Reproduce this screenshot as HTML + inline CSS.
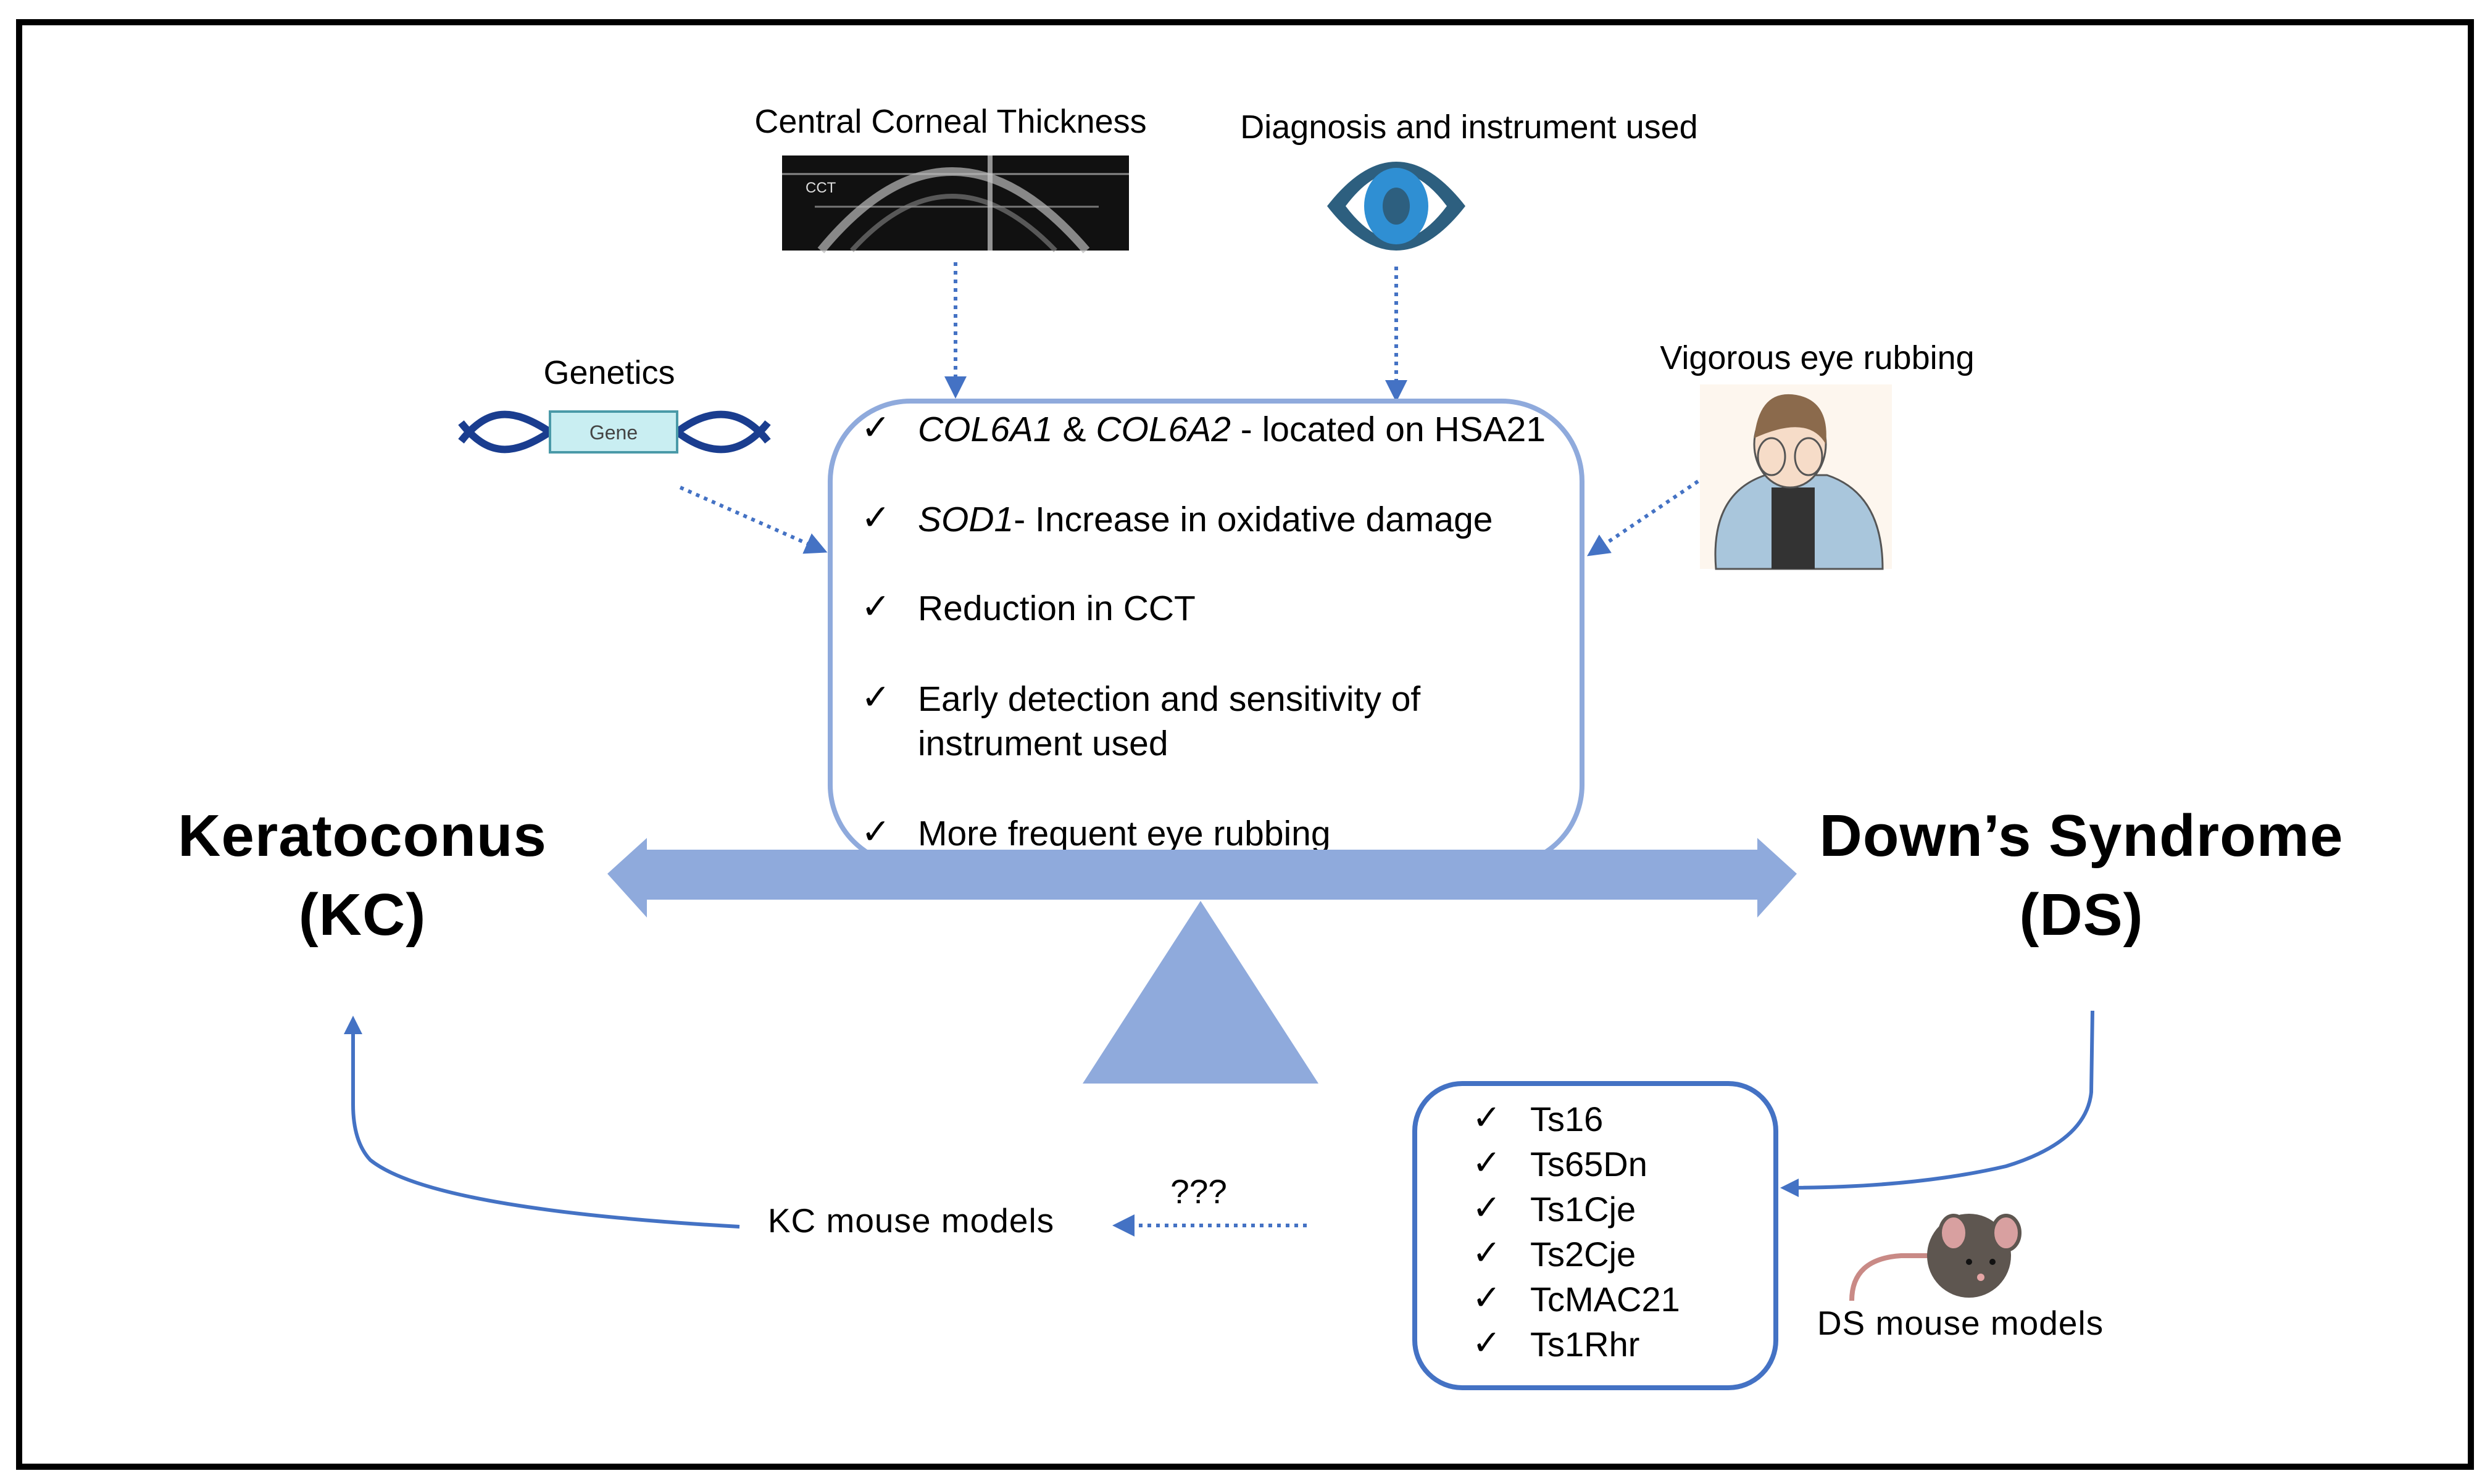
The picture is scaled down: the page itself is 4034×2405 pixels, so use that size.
<!DOCTYPE html>
<html><head><meta charset="utf-8"><style>
html,body{margin:0;padding:0;background:#fff;}
svg{display:block;}
text{font-family:"Liberation Sans",Arial,sans-serif;fill:#000;}
</style></head><body>
<svg width="4034" height="2405" viewBox="0 0 4034 2405" xmlns="http://www.w3.org/2000/svg">
<defs>
<marker id="ah" markerWidth="6" markerHeight="6" refX="5" refY="3" orient="auto" markerUnits="strokeWidth">
<path d="M0,0 L6,3 L0,6 z" fill="#4472c4"/></marker>
<marker id="ah2" markerWidth="5" markerHeight="5" refX="4" refY="2.5" orient="auto" markerUnits="strokeWidth">
<path d="M0,0 L5,2.5 L0,5 z" fill="#4472c4"/></marker>
</defs>
<rect x="31" y="36" width="3972" height="2341" fill="none" stroke="#000" stroke-width="10"/>

<text x="1540" y="215" font-size="54" text-anchor="middle">Central Corneal Thickness</text>
<text x="2380" y="224" font-size="54" text-anchor="middle">Diagnosis and instrument used</text>

<rect x="1267" y="252" width="562" height="154" fill="#111"/>
<line x1="1267" y1="282" x2="1829" y2="282" stroke="#888" stroke-width="3"/>
<line x1="1320" y1="335" x2="1780" y2="335" stroke="#777" stroke-width="3"/>
<path d="M1330,406 Q1540,150 1760,406" fill="none" stroke="#bbb" stroke-width="14" opacity="0.7"/>
<path d="M1380,406 Q1540,230 1710,406" fill="none" stroke="#888" stroke-width="8" opacity="0.6"/>
<line x1="1604" y1="252" x2="1604" y2="406" stroke="#ccc" stroke-width="8" opacity="0.7"/>
<text x="1305" y="312" font-size="24" style="fill:#ddd">CCT</text>

<path d="M2150,334 Q2262,190 2374,334 Q2262,478 2150,334 z" fill="#2d5f7f"/>
<path d="M2180,334 Q2262,225 2344,334 Q2262,443 2180,334 z" fill="#fff"/>
<ellipse cx="2262" cy="334" rx="52" ry="62" fill="#2f8fd3"/>
<ellipse cx="2262" cy="334" rx="22" ry="30" fill="#2d5f7f"/>

<line x1="1548" y1="425" x2="1548" y2="640" stroke="#4472c4" stroke-width="6" stroke-dasharray="6 8" marker-end="url(#ah)"/>
<line x1="2262" y1="432" x2="2262" y2="646" stroke="#4472c4" stroke-width="6" stroke-dasharray="6 8" marker-end="url(#ah)"/>

<text x="987" y="622" font-size="54" text-anchor="middle">Genetics</text>
<path d="M747,715 C790,660 830,660 891,700 M747,685 C790,740 830,740 891,700" fill="none" stroke="#1a3d8f" stroke-width="12"/>
<path d="M1097,700 C1150,660 1200,660 1244,715 M1097,700 C1150,740 1200,740 1244,685" fill="none" stroke="#1a3d8f" stroke-width="12"/>
<rect x="891" y="667" width="206" height="66" fill="#c9eef2" stroke="#4a9aa8" stroke-width="4"/>
<text x="994" y="712" font-size="32" text-anchor="middle" style="fill:#444">Gene</text>
<line x1="1102" y1="790" x2="1335" y2="893" stroke="#4472c4" stroke-width="6" stroke-dasharray="6 8" marker-end="url(#ah)"/>

<text x="2944" y="598" font-size="54" text-anchor="middle">Vigorous eye rubbing</text>
<rect x="2754" y="623" width="311" height="299" fill="#fdf6ee"/>
<path d="M2780,922 Q2770,800 2860,770 L2960,770 Q3050,800 3050,922 z" fill="#a9c6dc" stroke="#555" stroke-width="3"/>
<rect x="2870" y="790" width="70" height="132" fill="#333"/>
<ellipse cx="2900" cy="720" rx="58" ry="70" fill="#f6dcc8" stroke="#555" stroke-width="3"/>
<path d="M2842,710 Q2850,630 2910,640 Q2965,650 2958,720 Q2930,670 2842,710 z" fill="#8b6a4c"/>
<ellipse cx="2870" cy="740" rx="22" ry="30" fill="#f6dcc8" stroke="#555" stroke-width="3"/>
<ellipse cx="2930" cy="740" rx="22" ry="30" fill="#f6dcc8" stroke="#555" stroke-width="3"/>
<line x1="2751" y1="780" x2="2576" y2="898" stroke="#4472c4" stroke-width="6" stroke-dasharray="6 8" marker-end="url(#ah)"/>

<rect x="1345" y="650" width="1218" height="752" rx="130" fill="#fff" stroke="#8faadc" stroke-width="8"/>
<g font-size="57">
<text x="1395" y="712">✓</text><text x="1487" y="715"><tspan font-style="italic">COL6A1</tspan> &amp; <tspan font-style="italic">COL6A2</tspan> - located on HSA21</text>
<text x="1395" y="858">✓</text><text x="1487" y="861"><tspan font-style="italic">SOD1</tspan>- Increase in oxidative damage</text>
<text x="1395" y="1002">✓</text><text x="1487" y="1005">Reduction in CCT</text>
<text x="1395" y="1149">✓</text><text x="1487" y="1152">Early detection and sensitivity of</text>
<text x="1487" y="1224">instrument used</text>
<text x="1395" y="1367">✓</text><text x="1487" y="1370">More frequent eye rubbing</text>
</g>

<path d="M984,1416 L1048,1358 L1048,1377 L2847,1377 L2847,1358 L2911,1416 L2847,1487 L2847,1458 L1048,1458 L1048,1487 z" fill="#8faadc"/>
<path d="M1945,1460 L2136,1756 L1754,1756 z" fill="#8faadc"/>

<g font-size="96" font-weight="bold" text-anchor="middle" letter-spacing="1">
<text x="587" y="1387">Keratoconus</text>
<text x="587" y="1515">(KC)</text>
<text x="3372" y="1387">Down’s Syndrome</text>
<text x="3372" y="1515">(DS)</text>
</g>

<path d="M1198,1988 Q700,1960 600,1880 Q572,1850 572,1790 L572,1652" fill="none" stroke="#4472c4" stroke-width="6" marker-end="url(#ah2)"/>
<text x="1476" y="1997" font-size="55" text-anchor="middle" letter-spacing="1">KC mouse models</text>
<text x="1942" y="1950" font-size="55" text-anchor="middle">???</text>
<line x1="2117" y1="1986" x2="1808" y2="1986" stroke="#4472c4" stroke-width="6" stroke-dasharray="6 8" marker-end="url(#ah)"/>

<rect x="2292" y="1756" width="585" height="493" rx="77" fill="#fff" stroke="#4472c4" stroke-width="8"/>
<g font-size="56">
<text x="2385" y="1830">✓</text><text x="2479" y="1833">Ts16</text>
<text x="2385" y="1903">✓</text><text x="2479" y="1906">Ts65Dn</text>
<text x="2385" y="1976">✓</text><text x="2479" y="1979">Ts1Cje</text>
<text x="2385" y="2049">✓</text><text x="2479" y="2052">Ts2Cje</text>
<text x="2385" y="2122">✓</text><text x="2479" y="2125">TcMAC21</text>
<text x="2385" y="2195">✓</text><text x="2479" y="2198">Ts1Rhr</text>
</g>

<path d="M3390,1638 L3388,1770 Q3380,1850 3250,1890 Q3100,1925 2890,1925" fill="none" stroke="#4472c4" stroke-width="6" marker-end="url(#ah2)"/>

<path d="M3000,2108 Q3000,2040 3080,2035 L3140,2035" fill="none" stroke="#c98a86" stroke-width="8"/>
<ellipse cx="3190" cy="2035" rx="68" ry="68" fill="#5e5650"/>
<ellipse cx="3165" cy="1998" rx="22" ry="28" fill="#d8a0a0" stroke="#5e5650" stroke-width="6"/>
<ellipse cx="3250" cy="1998" rx="22" ry="28" fill="#d8a0a0" stroke="#5e5650" stroke-width="6"/>
<circle cx="3190" cy="2045" r="5" fill="#111"/><circle cx="3228" cy="2045" r="5" fill="#111"/>
<circle cx="3209" cy="2070" r="6" fill="#e5a5a5"/>
<text x="3176" y="2163" font-size="55" text-anchor="middle" letter-spacing="1">DS mouse models</text>
</svg>
</body></html>
